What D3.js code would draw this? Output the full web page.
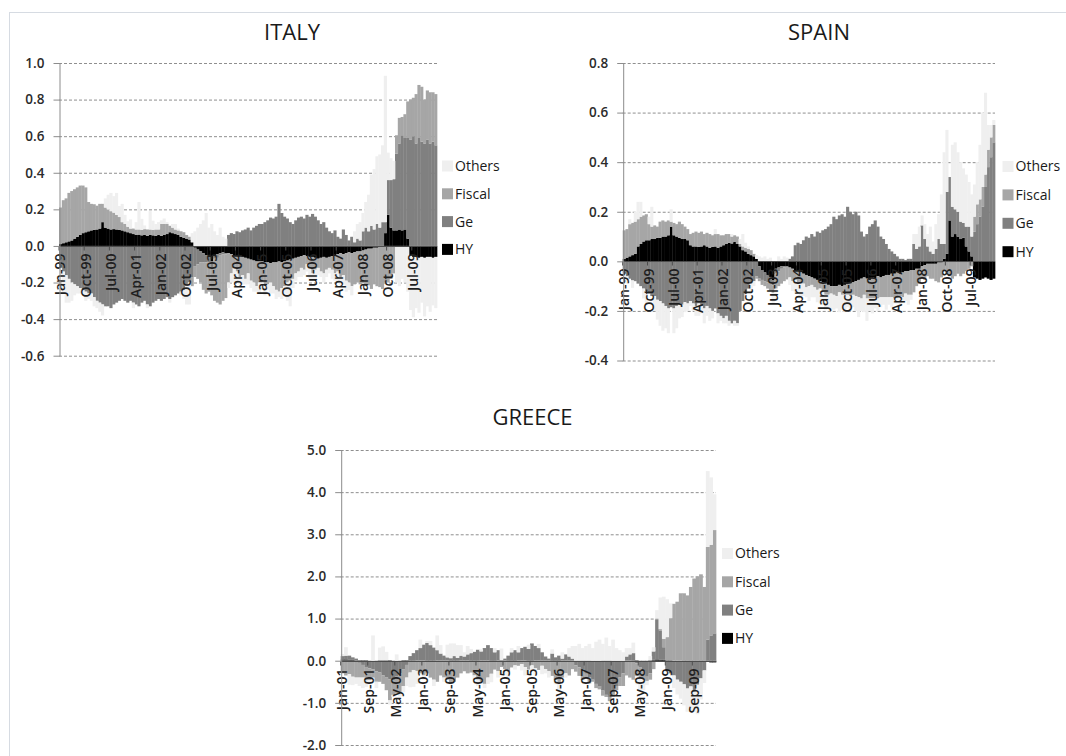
<!DOCTYPE html>
<html>
<head>
<meta charset="utf-8">
<script src="https://cdn.jsdelivr.net/npm/d3@7"></script>
<style>
  body { margin: 0; background: #fff; }
  svg { display: block; }
  text { font-family: "Open Sans", "Noto Sans", "DejaVu Sans", sans-serif; }
</style>
</head>
<body>
<svg id="chart" width="1066" height="756"></svg>
<script>
// ---- series definitions (stack order: HY closest to zero, Others outermost) ----
const seriesKeys = ["HY", "Ge", "Fiscal", "Others"];
const legendKeys = ["Others", "Fiscal", "Ge", "HY"];
const seriesColors = { HY: "#000000", Ge: "#808080", Fiscal: "#a6a6a6", Others: "#efefef" };

// ---- ITALY, monthly Jan-99 .. Mar-10 ----
const italyHY = [
  0.01,0.015,0.02,0.025,0.03,0.04,0.05,0.06,0.07,0.075,0.08,0.085,
  0.088,0.09,0.095,0.13,0.1,0.095,0.09,0.092,0.09,0.088,0.085,0.08,
  0.075,0.07,0.065,0.06,0.062,0.058,0.06,0.055,0.06,0.058,0.055,0.06,
  0.055,0.06,0.065,0.075,0.07,0.065,0.06,0.05,0.045,0.04,0.035,0.02,
  -0.01,-0.02,-0.03,-0.04,-0.05,-0.06,-0.085,-0.05,-0.045,-0.04,-0.035,-0.04,
  -0.04,-0.045,-0.05,-0.05,-0.055,-0.06,-0.065,-0.07,-0.075,-0.08,-0.085,-0.085,
  -0.085,-0.09,-0.09,-0.095,-0.09,-0.09,-0.085,-0.09,-0.085,-0.08,-0.075,-0.07,
  -0.065,-0.06,-0.055,-0.05,-0.055,-0.06,-0.06,-0.065,-0.07,-0.065,-0.06,-0.065,
  -0.06,-0.055,-0.05,-0.045,-0.04,-0.045,-0.04,-0.035,-0.04,-0.035,-0.03,-0.03,
  -0.025,-0.02,-0.015,-0.015,-0.01,-0.01,-0.005,-0.005,0.07,0.17,0.1,0.085,
  0.085,0.09,0.085,0.09,0.04,-0.05,-0.06,-0.06,-0.065,-0.06,-0.065,-0.06,
  -0.06,-0.065,-0.06
];
const italyGe = [
  -0.12,-0.14,-0.16,-0.18,-0.2,-0.21,-0.22,-0.23,-0.24,-0.25,-0.26,-0.26,
  -0.28,-0.3,-0.31,-0.32,-0.33,-0.33,-0.34,-0.32,-0.31,-0.3,-0.29,-0.3,
  -0.31,-0.3,-0.31,-0.32,-0.33,-0.31,-0.3,-0.32,-0.33,-0.31,-0.3,-0.29,
  -0.3,-0.29,-0.28,-0.29,-0.28,-0.27,-0.26,-0.25,-0.24,-0.22,-0.2,-0.17,
  -0.1,-0.08,-0.06,-0.05,-0.04,-0.03,-0.03,-0.02,-0.02,-0.01,-0.01,-0.005,
  0.06,0.07,0.065,0.08,0.075,0.085,0.09,0.1,0.085,0.1,0.11,0.12,
  0.12,0.13,0.14,0.155,0.15,0.16,0.23,0.18,0.16,0.15,0.13,0.12,
  0.14,0.155,0.16,0.15,0.17,0.16,0.175,0.16,0.14,0.12,0.13,0.1,
  0.08,0.07,0.085,0.05,0.04,0.09,0.06,0.03,0.05,0.02,0.04,0.03,
  0.08,0.1,0.08,0.11,0.09,0.12,0.1,0.13,0.06,0.19,0.26,0.28,
  0.42,0.47,0.52,0.5,0.55,0.58,0.6,0.56,0.59,0.57,0.56,0.58,
  0.56,0.57,0.55
];
const italyFiscal = [
  0.2,0.235,0.24,0.265,0.27,0.27,0.27,0.27,0.26,0.245,0.16,0.145,
  0.14,0.13,0.135,0.1,0.11,0.105,0.1,0.09,0.08,0.07,0.045,0.04,
  0.03,0.025,0.03,0.03,0.028,0.03,0.032,0.035,0.03,0.03,0.035,0.03,
  0.065,0.06,0.055,0.035,0.03,0.025,0.025,0.03,0.03,0.02,0.015,-0.05,
  -0.06,-0.08,-0.11,-0.15,-0.17,-0.16,-0.155,-0.23,-0.245,-0.27,-0.255,-0.24,
  -0.16,-0.105,-0.07,-0.09,-0.115,-0.1,-0.115,-0.08,-0.115,-0.12,-0.135,-0.115,
  -0.115,-0.13,-0.12,-0.105,-0.13,-0.15,-0.165,-0.14,-0.135,-0.12,-0.115,-0.11,
  -0.085,-0.08,-0.065,-0.08,-0.045,-0.06,-0.09,-0.065,-0.05,-0.075,-0.09,-0.065,
  -0.06,-0.075,-0.1,-0.095,-0.13,-0.115,-0.15,-0.165,-0.18,-0.175,-0.17,-0.18,
  -0.18,-0.2,-0.2,-0.22,-0.2,-0.21,-0.22,-0.23,-0.2,-0.2,-0.18,-0.15,
  0.1,0.14,0.1,0.13,0.2,0.22,0.21,0.27,0.29,0.3,0.24,0.27,
  0.28,0.27,0.28
];
const italyOthers = [
  -0.05,-0.12,-0.15,-0.13,-0.1,-0.06,-0.04,-0.03,-0.02,-0.05,-0.03,-0.04,
  -0.05,-0.04,-0.05,-0.06,0.05,0.08,0.1,0.09,0.12,0.06,0.1,0.05,
  0.03,0.05,-0.03,0.04,0.15,0.06,0.02,-0.02,0.1,0.05,0.03,0.04,
  0.02,0.03,0.01,-0.02,0.02,0.03,0.01,-0.02,-0.05,-0.1,-0.12,0.05,
  0.08,0.1,0.12,0.14,0.18,0.1,0.12,0.08,0.06,0.1,0.05,0.04,
  -0.03,-0.05,-0.08,-0.06,-0.04,-0.05,-0.03,-0.06,-0.04,-0.05,-0.03,-0.06,
  -0.04,-0.05,-0.03,-0.06,-0.04,-0.05,-0.03,-0.06,-0.04,-0.1,-0.14,-0.05,
  -0.04,-0.03,-0.05,-0.03,-0.04,-0.06,-0.03,-0.05,-0.04,-0.03,-0.05,-0.04,
  -0.03,-0.05,-0.04,-0.06,-0.04,-0.05,-0.06,-0.04,-0.05,0.06,0.08,0.1,
  0.1,0.14,0.2,0.28,0.33,0.37,0.4,0.42,0.8,0.15,0.12,0.1,
  -0.2,-0.22,-0.18,-0.2,-0.25,-0.3,-0.33,-0.28,-0.3,-0.25,-0.32,-0.27,
  -0.3,-0.26,-0.28
];

// ---- SPAIN, monthly Jan-99 .. Mar-10 ----
const spainHY = [
  0.01,0.015,0.02,0.025,0.03,0.06,0.07,0.08,0.085,0.085,0.09,0.09,
  0.095,0.095,0.1,0.1,0.105,0.14,0.105,0.1,0.095,0.09,0.09,0.085,
  0.065,0.06,0.06,0.058,0.06,0.065,0.06,0.055,0.058,0.06,0.055,0.06,
  0.065,0.07,0.075,0.072,0.078,0.07,0.06,0.045,0.04,0.03,0.025,0.02,
  0.01,-0.02,-0.035,-0.045,-0.055,-0.063,-0.077,-0.03,-0.025,-0.02,-0.02,-0.02,
  -0.025,-0.03,-0.035,-0.04,-0.045,-0.05,-0.055,-0.06,-0.065,-0.07,-0.075,-0.08,
  -0.085,-0.09,-0.095,-0.1,-0.1,-0.1,-0.095,-0.1,-0.095,-0.09,-0.09,-0.085,
  -0.08,-0.075,-0.07,-0.065,-0.07,-0.075,-0.065,-0.07,-0.06,-0.065,-0.06,-0.055,
  -0.055,-0.05,-0.05,-0.045,-0.05,-0.045,-0.04,-0.04,-0.035,-0.035,-0.03,-0.03,
  -0.02,-0.015,-0.01,-0.01,-0.01,-0.01,-0.005,-0.005,0.01,0.03,0.165,0.1,
  0.11,0.1,0.09,0.095,0.06,0.04,0.02,-0.065,-0.07,-0.075,-0.07,-0.065,
  -0.07,-0.075,-0.07
];
const spainGe = [
  -0.05,-0.06,-0.07,-0.077,-0.08,-0.09,-0.1,-0.11,-0.12,-0.13,-0.14,-0.14,
  -0.155,-0.16,-0.17,-0.18,-0.19,-0.185,-0.19,-0.18,-0.17,-0.175,-0.165,-0.17,
  -0.16,-0.17,-0.18,-0.17,-0.18,-0.19,-0.18,-0.19,-0.2,-0.19,-0.21,-0.22,
  -0.23,-0.22,-0.24,-0.25,-0.24,-0.25,-0.2,-0.16,-0.13,-0.11,-0.09,-0.08,
  -0.06,-0.05,-0.04,-0.035,-0.03,-0.025,-0.02,-0.02,-0.015,-0.01,-0.005,-0.003,
  0.01,0.02,0.065,0.075,0.07,0.085,0.1,0.095,0.11,0.1,0.12,0.115,
  0.125,0.13,0.14,0.15,0.18,0.17,0.185,0.19,0.18,0.22,0.2,0.19,
  0.2,0.185,0.12,0.1,0.11,0.14,0.15,0.165,0.14,0.1,0.09,0.07,
  0.05,0.04,0.03,0.02,0.01,0.01,0.005,0.01,0.01,0.07,0.05,0.06,
  0.145,0.09,0.06,0.04,0.03,0.05,0.09,0.07,0.06,0.25,0.175,0.12,
  0.1,0.1,0.07,0.06,0.08,0.1,0.08,0.12,0.15,0.18,0.22,0.3,
  0.38,0.42,0.48
];
const spainFiscal = [
  0.115,0.115,0.13,0.13,0.13,0.11,0.11,0.105,0.105,0.065,0.05,0.055,
  0.045,0.065,0.065,0.06,0.06,0.02,0.05,0.05,0.065,0.06,0.05,0.045,
  0.045,0.055,0.06,0.057,0.06,0.045,0.055,0.055,0.047,0.05,0.055,0.045,
  0.04,0.04,0.035,0.028,0.027,0.03,0.01,0.015,0.015,0.02,0.02,0.01,
  -0.01,-0.01,-0.02,-0.02,-0.025,-0.03,-0.03,-0.06,-0.06,-0.06,-0.055,-0.05,
  -0.04,-0.05,-0.04,-0.05,-0.045,-0.04,-0.05,-0.04,-0.03,-0.035,-0.04,-0.03,
  -0.04,-0.045,-0.04,-0.03,-0.035,-0.04,-0.03,-0.035,-0.04,-0.045,-0.05,-0.05,
  -0.06,-0.07,-0.08,-0.07,-0.08,-0.075,-0.085,-0.08,-0.09,-0.08,-0.085,-0.09,
  -0.09,-0.095,-0.1,-0.095,-0.09,-0.1,-0.09,-0.095,-0.1,-0.09,-0.07,-0.06,
  -0.05,-0.06,-0.05,-0.06,-0.06,-0.07,-0.08,-0.06,-0.04,-0.05,-0.06,-0.07,
  -0.06,-0.05,-0.06,-0.05,-0.04,-0.03,-0.02,0.06,0.08,0.07,0.08,0.05,
  0.07,0.08,0.07
];
const spainOthers = [
  -0.02,-0.03,0.02,-0.03,0.04,0.07,0.06,-0.04,-0.05,0.03,0.08,-0.06,
  -0.08,-0.1,-0.11,-0.09,-0.1,0.05,-0.1,-0.09,-0.06,-0.05,-0.04,-0.03,
  -0.02,-0.03,-0.04,-0.05,-0.03,-0.06,-0.04,-0.05,-0.03,0.02,-0.04,-0.02,
  -0.02,-0.03,-0.02,0.01,-0.02,-0.01,0.02,0.05,0.02,0.01,-0.03,-0.02,
  0.015,0.02,0.015,0.02,0.01,0.015,-0.04,-0.05,0.02,0.01,0.02,0.015,
  -0.03,-0.04,-0.05,-0.04,-0.06,-0.05,-0.04,-0.06,-0.05,-0.04,-0.05,-0.06,
  -0.05,-0.06,-0.05,-0.07,-0.06,-0.05,-0.08,-0.06,-0.07,-0.05,-0.06,-0.05,
  -0.06,-0.08,-0.05,-0.07,-0.09,-0.05,-0.06,-0.04,-0.05,-0.04,-0.03,-0.05,
  -0.03,-0.04,-0.02,-0.03,-0.04,-0.02,-0.03,-0.04,-0.02,0.04,0.06,0.08,
  0.04,0.06,0.05,0.1,0.05,0.1,0.1,0.2,0.37,0.25,0.0,0.25,
  0.27,0.24,0.24,0.22,0.21,0.18,0.17,0.13,0.17,0.22,0.3,0.33,
  0.1,0.05,0.02
];

// ---- GREECE, monthly Jan-01 .. Mar-10 ----
const greeceHY = [
  0.03,0.03,0.02,0.02,0.01,0.01,0.01,0.01,0.0,0.0,0.0,0.01,
  0.01,0.01,0.01,0.0,0.0,0.0,0.01,0.01,0.01,0.01,0.0,0.0,
  0.0,0.01,0.01,0.01,0.0,0.0,0.0,0.0,0.01,0.01,0.01,0.0,
  0.0,0.0,0.01,0.01,0.01,0.0,0.0,0.0,-0.01,-0.01,0.0,0.0,
  0.0,-0.01,-0.01,-0.01,0.0,0.0,0.0,-0.01,-0.01,0.0,0.0,0.0,
  0.0,0.0,-0.01,-0.01,-0.01,0.0,0.0,0.0,0.0,-0.01,-0.01,-0.01,
  -0.01,-0.01,0.0,0.0,0.0,-0.01,-0.01,-0.01,0.0,0.0,0.0,0.0,
  0.0,0.0,0.01,0.01,0.0,0.0,0.0,0.01,0.02,0.03,0.02,0.02,
  0.01,0.01,0.0,0.0,0.0,-0.01,-0.01,-0.01,-0.02,-0.02,-0.02,-0.03,
  -0.03,-0.04,-0.04
];
const greeceGe = [
  0.08,0.09,0.1,0.06,0.04,-0.05,-0.1,-0.15,-0.18,-0.2,-0.25,-0.28,
  -0.35,-0.4,-0.44,-0.46,-0.38,-0.3,-0.2,-0.1,0.1,0.17,0.25,0.3,
  0.38,0.41,0.36,0.3,0.25,0.17,0.12,0.08,0.05,0.1,0.06,0.12,
  0.1,0.15,0.17,0.2,0.25,0.22,0.3,0.37,0.3,0.2,0.25,0.02,
  0.05,0.12,0.2,0.25,0.2,0.3,0.33,0.28,0.41,0.35,0.3,0.2,
  0.1,0.05,0.17,0.08,0.12,0.05,0.15,0.1,0.05,-0.1,-0.15,-0.2,
  -0.3,-0.38,-0.45,-0.55,-0.6,-0.7,-0.8,-0.85,-0.7,-0.6,-0.4,-0.3,
  0.1,0.15,0.17,-0.06,-0.15,-0.25,-0.38,-0.3,0.2,0.95,0.7,0.3,
  -0.25,-0.3,-0.35,-0.45,-0.5,-0.55,-0.65,-0.6,-0.7,-0.55,-0.4,-0.2,
  0.5,0.6,0.65
];
const greeceFiscal = [
  -0.3,-0.35,-0.32,-0.38,-0.4,-0.35,-0.3,-0.32,-0.28,-0.2,-0.25,-0.22,
  -0.2,-0.3,-0.5,-0.35,-0.4,-0.45,-0.4,-0.3,-0.28,-0.22,-0.25,-0.3,
  -0.35,-0.3,-0.4,-0.45,-0.5,-0.35,-0.4,-0.45,-0.55,-0.5,-0.4,-0.3,
  -0.25,-0.3,-0.28,-0.35,-0.45,-0.5,-0.55,-0.4,-0.3,-0.2,-0.25,-0.15,
  -0.2,-0.25,-0.15,-0.1,-0.12,-0.08,-0.15,-0.2,-0.1,-0.18,-0.22,-0.12,
  -0.2,-0.25,-0.35,-0.45,-0.5,-0.4,-0.3,-0.35,-0.2,-0.15,-0.2,-0.25,
  -0.1,-0.15,-0.05,-0.1,-0.08,-0.12,-0.05,-0.1,-0.15,-0.1,-0.2,-0.3,
  -0.35,-0.4,-0.45,-0.3,-0.25,-0.2,-0.1,-0.15,-0.2,0.02,0.03,0.2,
  0.55,1.0,1.35,1.4,1.6,1.6,1.55,1.75,1.95,2.0,2.05,1.75,
  2.2,2.15,2.45
];
const greeceOthers = [
  0.05,0.2,-0.25,-0.2,-0.15,-0.2,-0.25,-0.15,-0.1,0.6,-0.15,0.3,
  0.33,0.2,-0.1,-0.05,0.15,-0.1,-0.15,-0.2,-0.35,-0.4,-0.3,0.2,
  -0.1,0.05,0.1,-0.15,0.35,0.2,-0.1,0.3,0.35,0.3,0.3,0.25,
  0.1,0.2,0.1,-0.1,-0.15,0.05,-0.1,-0.15,-0.2,0.1,-0.15,0.27,
  -0.15,-0.2,0.1,-0.1,0.15,-0.15,-0.2,0.1,-0.1,-0.15,0.1,-0.2,
  -0.1,-0.15,0.1,-0.1,-0.2,0.15,-0.1,0.2,0.3,0.35,0.4,0.3,
  0.35,0.4,0.3,0.45,0.5,0.4,0.55,0.35,0.5,0.3,0.25,0.2,
  0.2,0.15,0.25,-0.2,-0.3,-0.25,-0.1,0.1,0.1,0.2,0.75,1.0,
  0.9,0.35,-0.3,-0.35,-0.4,-0.5,-0.55,-0.6,-0.5,-0.7,-0.5,-0.3,
  1.8,1.6,0.85
];

// ---- axis ticks ----
const italyTicksY = [-0.6, -0.4, -0.2, 0.0, 0.2, 0.4, 0.6, 0.8, 1.0];
const spainTicksY = [-0.4, -0.2, 0.0, 0.2, 0.4, 0.6, 0.8];
const greeceTicksY = [-2.0, -1.0, 0.0, 1.0, 2.0, 3.0, 4.0, 5.0];
const italyTicksX = ["Jan-99","Oct-99","Jul-00","Apr-01","Jan-02","Oct-02","Jul-03","Apr-04",
                     "Jan-05","Oct-05","Jul-06","Apr-07","Jan-08","Oct-08","Jul-09"];
const spainTicksX = ["Jan-99","Oct-99","Jul-00","Apr-01","Jan-02","Oct-02","Jul-03","Apr-04",
                     "Jan-05","Oct-05","Jul-06","Apr-07","Jan-08","Oct-08","Jul-09"];
const greeceTicksX = ["Jan-01","Sep-01","May-02","Jan-03","Sep-03","May-04","Jan-05",
                      "Sep-05","May-06","Jan-07","Sep-07","May-08","Jan-09","Sep-09"];

// monthly category labels such as "Jan-99"
const fmtMonth = d3.timeFormat("%b-%y");
function monthCategories(startYear, count) {
  return d3.timeMonth.range(new Date(startYear, 0, 1), new Date(startYear, count, 1)).map(fmtMonth);
}

const panels = [
  { title: "ITALY", startYear: 1999, hy: italyHY, ge: italyGe, fiscal: italyFiscal, others: italyOthers,
    yTicks: italyTicksY, xTicks: italyTicksX,
    left: 59, right: 437, top: 63, bottom: 355.7,
    titleX: 292, titleY: 40, legendX: 442, legendY: 166, legendStep: 27.8 },
  { title: "SPAIN", startYear: 1999, hy: spainHY, ge: spainGe, fiscal: spainFiscal, others: spainOthers,
    yTicks: spainTicksY, xTicks: spainTicksX,
    left: 622.7, right: 995, top: 63, bottom: 360.5,
    titleX: 819, titleY: 40, legendX: 1002.5, legendY: 166.5, legendStep: 28.4 },
  { title: "GREECE", startYear: 2001, hy: greeceHY, ge: greeceGe, fiscal: greeceFiscal, others: greeceOthers,
    yTicks: greeceTicksY, xTicks: greeceTicksX,
    left: 340.7, right: 716, top: 450, bottom: 745,
    titleX: 532.5, titleY: 425, legendX: 722, legendY: 553.5, legendStep: 28.3 }
];

const svg = d3.select("#chart");

// outer frame
svg.append("rect")
  .attr("x", 9.5).attr("y", 12.5).attr("width", 1100).attr("height", 800)
  .attr("fill", "none").attr("stroke", "#d6dbe2");

panels.forEach(drawPanel);

function drawPanel(p) {
  const months = monthCategories(p.startYear, p.hy.length);
  const rows = months.map((m, i) => ({
    month: m, HY: p.hy[i], Ge: p.ge[i], Fiscal: p.fiscal[i], Others: p.others[i]
  }));
  const stacked = d3.stack().keys(seriesKeys).offset(d3.stackOffsetDiverging)(rows);

  const x = d3.scaleBand().domain(months).range([p.left, p.right]).padding(0);
  const y = d3.scaleLinear()
    .domain([p.yTicks[0], p.yTicks[p.yTicks.length - 1]])
    .range([p.bottom, p.top]);

  const g = svg.append("g");

  // dashed horizontal gridlines
  g.append("g").selectAll("line")
    .data(p.yTicks.filter(t => t !== 0))
    .join("line")
    .attr("x1", p.left).attr("x2", p.right)
    .attr("y1", d => y(d) + 0.5).attr("y2", d => y(d) + 0.5)
    .attr("stroke", "#8f8f8f").attr("stroke-width", 1)
    .attr("stroke-dasharray", "3,2");

  // stacked bars (positive and negative parts diverge from zero)
  g.append("g").selectAll("g")
    .data(stacked)
    .join("g")
    .attr("fill", s => seriesColors[s.key])
    .selectAll("rect")
    .data(s => s)
    .join("rect")
    .attr("x", d => x(d.data.month))
    .attr("width", x.bandwidth() + 0.35)
    .attr("y", d => y(Math.max(d[0], d[1])))
    .attr("height", d => Math.abs(y(d[0]) - y(d[1])));

  // zero line
  const y0 = Math.round(y(0)) + 0.5;
  g.append("line")
    .attr("x1", p.left).attr("x2", p.right)
    .attr("y1", y0).attr("y2", y0)
    .attr("stroke", "#4d4d4d").attr("stroke-width", 1);

  // category tick marks
  g.append("g").selectAll("line")
    .data(p.xTicks)
    .join("line")
    .attr("x1", d => x(d)).attr("x2", d => x(d))
    .attr("y1", y0).attr("y2", y0 + 4)
    .attr("stroke", "#4d4d4d");

  // rotated category labels
  g.append("g").selectAll("text")
    .data(p.xTicks)
    .join("text")
    .attr("transform", d => `translate(${x(d) + x.bandwidth() / 2},${y0 + 7}) rotate(-90)`)
    .attr("text-anchor", "end")
    .attr("dy", "0.35em")
    .attr("font-size", 14)
    .attr("font-weight", 600)
    .attr("fill", "#1f1f1f")
    .text(d => d);

  // value axis
  const yAxis = d3.axisLeft(y)
    .tickValues(p.yTicks)
    .tickSize(6)
    .tickSizeOuter(0)
    .tickPadding(9)
    .tickFormat(d => d.toFixed(1));
  const ya = g.append("g")
    .attr("transform", `translate(${p.left + 0.5},0)`)
    .call(yAxis);
  ya.attr("font-family", null).attr("font-size", null);
  ya.select(".domain").attr("stroke", "#8c8c8c");
  ya.selectAll(".tick line").attr("stroke", "#8c8c8c");
  ya.selectAll(".tick text")
    .attr("font-size", 13.5)
    .attr("font-weight", 600)
    .attr("fill", "#2b2b2b");

  // title
  g.append("text")
    .attr("x", p.titleX).attr("y", p.titleY)
    .attr("text-anchor", "middle")
    .attr("font-size", 22)
    .attr("fill", "#1a1a1a")
    .text(p.title);

  // legend
  const lg = g.append("g").selectAll("g")
    .data(legendKeys)
    .join("g")
    .attr("transform", (d, i) => `translate(${p.legendX},${p.legendY + i * p.legendStep})`);
  lg.append("rect")
    .attr("x", 0).attr("y", -5.5)
    .attr("width", 11).attr("height", 11)
    .attr("fill", d => seriesColors[d]);
  lg.append("text")
    .attr("x", 13).attr("y", 0)
    .attr("dy", "0.35em")
    .attr("font-size", 14)
    .attr("fill", "#1a1a1a")
    .text(d => d);
}
</script>
</body>
</html>
